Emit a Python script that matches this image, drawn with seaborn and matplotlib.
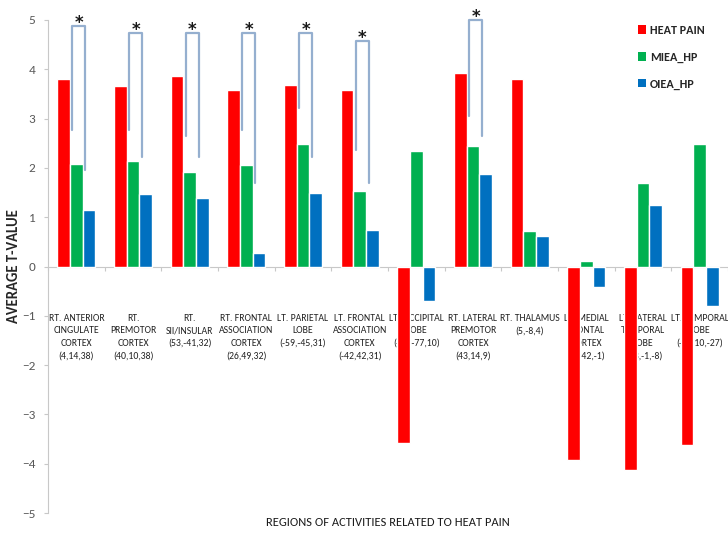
import matplotlib
matplotlib.use("Agg")
import matplotlib.pyplot as plt
from matplotlib.patches import Patch
import numpy as np
import pandas as pd
import seaborn as sns

regions = [
    "RT. ANTERIOR\nCINGULATE\nCORTEX\n(4,14,38)",
    "RT.\nPREMOTOR\nCORTEX\n(40,10,38)",
    "RT.\nSII/INSULAR\n(53,-41,32)",
    "RT. FRONTAL\nASSOCIATION\nCORTEX\n(26,49,32)",
    "LT. PARIETAL\nLOBE\n(-59,-45,31)",
    "LT. FRONTAL\nASSOCIATION\nCORTEX\n(-42,42,31)",
    "LT. OCCIPITAL\nLOBE\n(-52,-77,10)",
    "RT. LATERAL\nPREMOTOR\nCORTEX\n(43,14,9)",
    "RT. THALAMUS\n(5,-8,4)",
    "LT. MEDIAL\nFRONTAL\nCORTEX\n(-2,42,-1)",
    "LT. LATERAL\nTEMPORAL\nLOBE\n(-63,-1,-8)",
    "LT. TEMPORAL\nLOBE\n(-47,10,-27)",
]
series_names = ["HEAT PAIN", "MIEA_HP", "OIEA_HP"]
heat_pain = [3.81, 3.67, 3.87, 3.58, 3.69, 3.58, -3.58, 3.93, 3.81, -3.92, -4.12, -3.62]
miea_hp = [2.08, 2.14, 1.91, 2.05, 2.48, 1.54, 2.35, 2.45, 0.71, 0.12, 1.69, 2.48]
oiea_hp = [1.15, 1.47, 1.39, 0.28, 1.50, 0.74, -0.70, 1.87, 0.61, -0.41, 1.24, -0.80]
colors = ["#FF0000", "#00B050", "#0070C0"]

# significance brackets: region index, top, left-leg end, right-leg end
sig_region = [0, 1, 2, 3, 4, 5, 7]
sig_top = [4.87, 4.73, 4.73, 4.73, 4.73, 4.58, 5.0]
sig_left = [2.77, 2.77, 2.64, 2.77, 3.21, 2.37, 3.06]
sig_right = [1.96, 2.23, 2.23, 1.69, 2.23, 1.69, 2.65]

df = pd.DataFrame({
    "region": np.repeat(regions, 3),
    "series": series_names * len(regions),
    "value": np.ravel(np.column_stack([heat_pain, miea_hp, oiea_hp])),
})

sns.set_theme(style="white")
plt.rcParams["font.family"] = ["Carlito", "DejaVu Sans"]

fig = plt.figure(figsize=(7.28, 5.33), dpi=100)
ax = fig.add_axes([48 / 728, 1 - 513 / 533, 680 / 728, 493 / 533])

sns.barplot(data=df, x="region", y="value", hue="series", order=regions,
            hue_order=series_names, palette=colors, saturation=1,
            width=0.67, ax=ax, legend=False, zorder=3)

ax.set_ylim(-5, 5)
ax.set_xlim(-0.5, len(regions) - 0.5)
ax.set_yticks(range(-5, 6))

grey = "#C8C8C8"
for s in ["top", "right"]:
    ax.spines[s].set_visible(False)
ax.spines["left"].set_color(grey)
ax.spines["bottom"].set_color(grey)
ax.spines["bottom"].set_position(("data", 0))
ax.spines["left"].set_linewidth(0.8)
ax.spines["bottom"].set_linewidth(0.8)

ax.tick_params(axis="y", left=True, length=3, width=0.8, color=grey,
               labelsize=9.5, labelcolor="#595959", pad=6)
ax.set_xticks(np.arange(len(regions)))
ax.set_xticklabels(regions, fontsize=7, color="#222222", linespacing=1.5)
ax.tick_params(axis="x", bottom=False, pad=28)
ax.set_xticks(np.arange(len(regions) + 1) - 0.5, minor=True)
ax.tick_params(axis="x", which="minor", bottom=True, length=3, width=0.8, color=grey)
ax.xaxis.set_zorder(2)

ax.set_xlabel("")
ax.set_ylabel("")
fig.text(14 / 728, 1 - 266 / 533, "AVERAGE T-VALUE", rotation=90,
         ha="center", va="center", fontsize=10.5, fontweight="bold", color="#262626")
fig.text(388 / 728, 1 - 523 / 533, "REGIONS OF ACTIVITIES RELATED TO HEAT PAIN",
         ha="center", va="center", fontsize=9, color="#1a1a1a")

# significance brackets between MIEA_HP and OIEA_HP
bracket_color = "#95AFCF"
for i, top, yl, yr in zip(sig_region, sig_top, sig_left, sig_right):
    xl, xr = i - 0.07, i + 0.16
    ax.plot([xl, xl, xr, xr], [yl, top, top, yr], color=bracket_color,
            lw=1.6, zorder=4, clip_on=False, solid_joinstyle="round")
    ax.text((xl + xr) / 2, top + 0.06, "*", ha="center", va="center",
            fontsize=12, fontweight="bold", color="#1a1a1a",
            family=["DejaVu Sans"], clip_on=False, zorder=5)

handles = [Patch(facecolor=c, edgecolor="none") for c in colors]
fig.legend(handles, series_names, loc="upper left",
           bbox_to_anchor=(627 / 728, 1 - 14 / 533), frameon=False,
           handlelength=0.7, handleheight=0.7, handletextpad=0.3,
           labelspacing=1.3, prop={"family": "Carlito", "weight": "bold", "size": 8.7})

fig.savefig("out.png", dpi=100, facecolor="white")
